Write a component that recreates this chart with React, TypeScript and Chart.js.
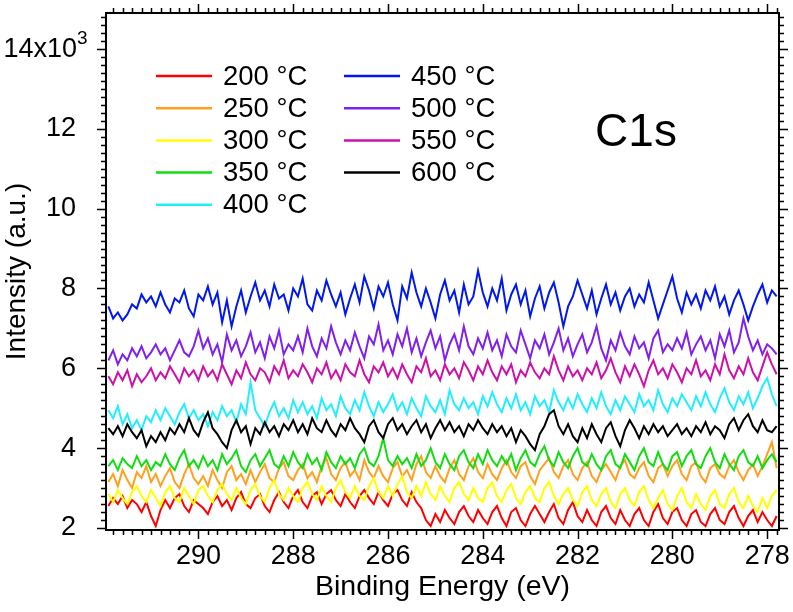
import React, { useEffect, useRef } from "react";
import { Chart, registerables } from "chart.js";

Chart.register(...registerables);

const FONT = '"Liberation Sans", Arial, Helvetica, sans-serif';

// Binding energy grid (eV)
const energies = [
  291.9, 291.8, 291.7, 291.6, 291.5, 291.4, 291.3, 291.2, 291.1, 291.0,
  290.9, 290.8, 290.7, 290.6, 290.5, 290.4, 290.3, 290.2, 290.1, 290.0,
  289.9, 289.8, 289.7, 289.6, 289.5, 289.4, 289.3, 289.2, 289.1, 289.0,
  288.9, 288.8, 288.7, 288.6, 288.5, 288.4, 288.3, 288.2, 288.1, 288.0,
  287.9, 287.8, 287.7, 287.6, 287.5, 287.4, 287.3, 287.2, 287.1, 287.0,
  286.9, 286.8, 286.7, 286.6, 286.5, 286.4, 286.3, 286.2, 286.1, 286.0,
  285.9, 285.8, 285.7, 285.6, 285.5, 285.4, 285.3, 285.2, 285.1, 285.0,
  284.9, 284.8, 284.7, 284.6, 284.5, 284.4, 284.3, 284.2, 284.1, 284.0,
  283.9, 283.8, 283.7, 283.6, 283.5, 283.4, 283.3, 283.2, 283.1, 283.0,
  282.9, 282.8, 282.7, 282.6, 282.5, 282.4, 282.3, 282.2, 282.1, 282.0,
  281.9, 281.8, 281.7, 281.6, 281.5, 281.4, 281.3, 281.2, 281.1, 281.0,
  280.9, 280.8, 280.7, 280.6, 280.5, 280.4, 280.3, 280.2, 280.1, 280.0,
  279.9, 279.8, 279.7, 279.6, 279.5, 279.4, 279.3, 279.2, 279.1, 279.0,
  278.9, 278.8, 278.7, 278.6, 278.5, 278.4, 278.3, 278.2, 278.1, 278.0,
  277.9, 277.8,
];

// Intensities (x10^3 a.u.)
const t200 = [
  2.55,2.75,2.60,2.80,2.50,2.70,2.60,2.40,2.65,2.30,2.05,2.45,2.70,2.50,2.75,2.85,2.55,2.40,2.70,2.60,
  2.50,2.35,2.65,2.80,2.55,2.70,2.45,2.75,2.90,2.60,2.50,2.75,2.85,2.55,2.40,2.70,2.90,2.65,2.50,2.80,
  2.95,2.65,2.50,2.80,2.90,2.60,2.85,2.95,2.70,2.55,2.85,2.65,2.50,2.80,2.95,2.75,2.60,2.90,2.70,2.55,
  2.85,2.95,2.70,2.55,2.90,2.65,2.50,2.20,2.05,2.35,2.15,2.45,2.25,2.10,2.40,2.55,2.30,2.15,2.45,2.25,
  2.10,2.40,2.55,2.25,2.05,2.40,2.50,2.20,2.05,2.35,2.55,2.35,2.15,2.40,2.60,2.25,2.10,2.45,2.65,2.30,
  2.15,2.45,2.20,2.05,2.40,2.55,2.25,2.10,2.45,2.20,2.05,2.35,2.50,2.20,2.05,2.40,2.60,2.25,2.10,2.40,
  2.50,2.20,2.05,2.35,2.45,2.15,2.05,2.35,2.50,2.20,2.10,2.40,2.55,2.25,2.05,2.30,2.45,2.15,2.40,2.20,
  2.05,2.30,
];
const t250 = [
  3.15,3.35,3.05,3.45,3.20,3.00,3.40,3.25,3.55,3.15,3.35,3.05,3.30,3.50,3.15,3.00,3.35,3.60,3.25,3.10,
  3.30,3.05,3.45,3.20,3.00,3.40,3.55,3.20,3.35,3.10,3.45,3.15,3.40,3.60,3.25,3.15,3.50,3.65,3.30,3.20,
  3.45,3.60,3.25,3.40,3.15,3.55,3.75,3.35,3.20,3.50,3.65,3.30,3.45,3.20,3.70,3.40,3.25,3.55,3.30,3.15,
  3.50,3.65,3.30,3.45,3.20,3.60,3.80,3.40,3.25,3.55,3.30,3.15,3.50,3.70,3.35,3.20,3.55,3.75,3.40,3.25,
  3.60,3.35,3.20,3.50,3.70,3.40,3.25,3.55,3.65,3.30,3.10,3.45,3.60,3.75,3.40,3.25,3.55,3.70,3.35,3.20,
  3.50,3.65,3.30,3.15,3.45,3.60,3.40,3.20,3.55,3.70,3.35,3.25,3.50,3.65,3.30,3.15,3.50,3.60,3.30,3.55,
  3.70,3.35,3.20,3.55,3.65,3.30,3.15,3.50,3.60,3.35,3.25,3.55,3.70,3.40,3.20,3.45,3.60,3.30,3.55,3.85,
  4.15,3.50,
];
const t300 = [
  2.85,2.65,2.95,2.75,2.60,2.90,3.05,2.80,2.65,2.95,2.75,2.55,2.90,3.05,2.75,2.65,3.00,2.80,2.60,2.95,
  3.05,2.80,2.65,2.95,3.10,2.85,2.70,3.00,2.75,2.60,2.95,3.10,2.80,2.65,3.00,3.20,2.85,2.70,3.00,2.80,
  2.65,3.00,3.15,2.85,2.70,3.05,2.80,2.65,3.00,3.20,2.90,2.75,3.05,2.80,2.70,3.05,3.25,2.90,2.75,3.05,
  2.80,3.10,3.30,2.90,2.75,3.05,2.80,3.15,2.85,2.70,3.05,2.80,2.65,3.00,3.15,2.85,2.70,3.00,2.75,2.65,
  3.00,3.15,2.80,2.65,2.95,3.10,2.75,2.60,2.90,3.05,2.75,2.65,3.00,3.15,2.80,2.60,2.85,3.00,2.70,2.55,
  2.90,3.05,2.70,2.55,2.85,3.00,2.65,2.50,2.85,3.00,2.70,2.55,2.90,3.05,2.70,2.50,2.75,2.95,2.60,2.45,
  2.80,3.00,2.65,2.50,2.85,2.60,2.45,2.80,2.95,2.60,2.50,2.85,3.00,2.65,2.50,2.80,2.55,2.40,2.75,2.50,
  2.80,2.95,
];
const t350 = [
  3.55,3.70,3.45,3.75,3.60,3.50,3.80,3.55,3.70,3.45,3.65,3.55,3.85,3.60,3.45,3.75,3.95,3.55,3.70,3.50,
  3.80,3.55,3.70,3.45,3.85,3.60,3.75,3.95,3.55,3.40,3.70,3.85,3.55,3.75,3.95,3.60,3.50,3.80,3.55,3.90,
  3.65,3.50,3.85,3.60,3.75,3.45,3.90,3.65,3.50,3.80,3.60,3.75,3.50,3.85,4.00,3.65,3.55,3.80,4.25,3.70,
  3.55,3.80,3.60,3.75,3.50,3.85,3.55,3.70,4.00,3.65,3.50,3.85,3.60,3.45,3.80,3.95,3.65,3.50,3.85,3.60,
  3.95,3.70,3.55,3.80,3.60,3.85,3.45,3.75,3.95,3.65,3.55,3.85,4.05,3.70,3.55,3.90,3.65,3.50,3.80,4.00,
  3.65,3.55,3.85,3.60,3.45,3.80,3.95,3.60,3.50,3.85,3.65,3.45,3.80,4.00,3.65,3.55,3.90,3.60,3.45,3.80,
  3.90,3.55,3.80,3.95,3.60,3.50,3.80,4.00,3.65,3.50,3.85,3.60,3.45,3.80,3.95,3.65,3.55,3.80,3.50,3.70,
  3.85,3.65,
];
const t400 = [
  4.95,4.75,5.05,4.60,4.85,4.50,4.70,4.45,4.80,4.65,4.95,4.70,5.00,4.80,4.60,4.90,5.10,4.75,4.95,4.70,
  4.85,4.55,4.90,4.70,5.05,4.80,4.95,4.65,5.10,4.85,5.65,4.95,4.75,4.55,4.90,5.15,4.80,5.00,4.75,5.20,
  4.90,5.15,4.85,5.05,4.75,5.25,4.95,5.10,4.80,5.30,5.00,4.85,5.20,4.95,5.40,5.05,4.80,5.15,4.90,5.10,
  5.35,4.95,5.15,4.85,5.25,5.00,4.80,5.30,5.05,4.90,5.20,4.85,5.45,5.10,4.95,5.25,5.00,5.15,4.85,5.30,
  5.05,5.40,5.10,4.90,5.25,5.00,5.35,4.95,5.15,4.85,5.30,5.05,5.20,4.90,5.45,5.15,4.95,5.25,5.00,5.35,
  5.10,4.90,5.25,5.00,5.40,5.05,4.85,5.20,4.95,5.30,5.10,4.90,5.35,5.05,5.20,4.95,5.45,5.10,4.90,5.25,
  5.05,5.35,5.15,4.95,5.30,5.05,5.40,5.10,4.90,5.25,5.50,5.15,4.95,5.30,5.10,5.40,5.00,5.25,5.55,5.75,
  5.35,5.05,
];
const t450 = [
  7.55,7.25,7.40,7.20,7.35,7.60,7.50,7.85,7.65,7.80,7.55,7.90,7.60,7.40,7.75,7.65,7.95,7.50,7.30,7.85,
  7.70,8.05,7.60,7.90,7.15,7.70,7.05,7.55,7.95,7.40,7.80,8.15,7.70,7.95,7.55,8.10,7.75,7.85,7.45,8.00,
  7.80,8.25,7.60,7.45,7.95,7.70,8.20,7.85,7.55,7.90,7.35,7.75,8.10,7.65,8.30,7.95,7.50,8.05,7.80,8.15,
  7.60,7.20,8.05,7.75,8.40,7.90,7.55,8.00,7.65,7.25,7.85,8.20,7.70,7.95,7.40,8.10,7.60,7.80,8.45,7.90,
  7.55,8.00,7.70,8.25,7.45,7.85,8.10,7.60,7.95,7.30,7.75,8.05,7.50,7.90,8.15,7.65,7.05,7.55,7.80,8.20,
  7.85,7.50,7.95,7.35,7.75,8.10,7.60,7.90,7.45,7.80,8.00,7.55,7.85,7.65,8.15,7.70,7.25,7.60,7.95,8.30,
  7.75,7.40,7.90,7.60,7.85,7.50,7.95,7.70,8.05,7.55,7.80,7.35,7.70,7.95,7.60,7.20,7.55,7.85,8.10,7.65,
  7.95,7.80,
];
const t500 = [
  6.20,6.45,6.10,6.35,6.20,6.50,6.30,6.55,6.25,6.40,6.60,6.35,6.50,6.20,6.45,6.70,6.40,6.30,6.55,6.95,
  6.50,6.75,6.35,6.60,6.15,6.85,6.45,6.70,6.30,6.55,6.90,6.40,6.65,6.25,6.80,6.50,6.95,6.35,6.60,6.45,
  6.80,6.40,7.00,6.55,6.30,6.75,6.50,7.05,6.65,6.35,6.70,6.45,6.90,6.55,6.25,6.80,6.60,7.10,6.45,6.70,
  6.35,6.85,6.55,7.00,6.40,6.75,6.30,6.65,6.95,6.50,6.80,6.20,6.60,6.85,6.45,7.05,6.55,6.35,6.75,6.50,
  6.90,6.45,6.70,6.30,6.85,6.55,6.40,6.95,6.60,6.25,6.70,6.50,6.85,6.35,6.65,7.00,6.45,6.75,6.30,6.60,
  6.85,6.40,6.65,7.05,6.50,6.20,6.70,6.45,6.90,6.55,6.35,6.80,6.50,6.65,6.25,6.75,6.95,6.40,6.60,6.45,
  6.75,6.50,6.90,6.35,6.60,6.80,6.45,6.70,6.25,6.85,6.55,6.95,6.40,6.65,7.25,6.80,6.45,6.70,6.35,6.60,
  6.50,6.35,
];
const t550 = [
  5.80,5.60,5.90,5.70,5.95,5.55,5.85,5.65,5.80,6.00,5.70,5.90,5.75,6.05,5.85,5.65,6.00,5.80,5.95,5.70,
  6.05,5.80,5.95,5.70,6.10,5.85,5.60,5.95,5.75,6.15,5.85,5.70,6.00,5.90,5.65,6.05,5.85,6.20,5.75,5.95,
  5.80,6.10,5.90,5.65,6.00,5.85,6.15,5.75,5.95,5.70,6.10,5.90,5.80,6.20,5.85,5.65,6.05,5.90,6.15,5.80,
  6.00,5.75,6.10,5.85,5.65,6.05,5.90,6.25,5.80,5.95,5.70,6.10,5.85,6.00,5.75,6.15,5.95,5.70,6.05,5.85,
  6.20,5.90,5.70,6.05,5.85,6.10,5.65,5.95,5.80,6.15,5.90,5.75,6.00,5.85,6.30,5.95,5.70,6.05,5.80,5.95,
  5.70,6.00,5.85,6.15,5.75,5.95,6.25,5.90,5.65,6.05,5.80,6.10,5.85,5.55,5.95,6.20,5.85,6.00,5.75,6.10,
  5.90,5.65,6.00,5.85,6.20,5.80,5.95,5.70,6.10,5.85,6.35,5.95,5.75,6.05,5.85,6.25,5.90,5.70,6.05,6.40,
  6.10,5.85,
];
const t600 = [
  4.50,4.35,4.55,4.30,4.60,4.40,4.25,4.45,4.05,4.30,4.15,4.40,4.20,4.50,4.35,4.60,4.40,4.75,4.45,4.30,
  4.65,4.90,4.50,4.35,4.15,4.00,4.45,4.70,4.40,4.55,4.10,4.50,4.35,4.65,4.40,4.55,4.30,4.60,4.45,4.70,
  4.40,4.60,4.35,4.75,4.50,4.40,4.70,4.45,4.30,4.60,4.45,4.75,4.50,4.35,4.15,4.55,4.70,4.40,4.25,4.60,
  4.75,4.45,4.60,4.35,4.55,4.70,4.40,4.60,4.25,4.50,4.70,4.45,4.65,4.40,4.55,4.30,4.60,4.45,4.70,4.50,
  4.35,4.60,4.40,4.55,4.30,4.50,4.15,4.45,4.30,4.10,3.95,4.35,4.55,4.85,4.95,4.55,4.35,4.60,4.30,4.15,
  4.50,4.25,4.60,4.35,4.15,4.50,4.65,4.30,4.05,4.45,4.70,4.50,4.25,4.55,4.35,4.60,4.40,4.55,4.30,4.45,
  4.60,4.35,4.50,4.30,4.55,4.40,4.65,4.35,4.55,4.45,4.25,4.60,4.75,4.45,4.70,4.85,4.55,4.40,4.70,4.45,
  4.40,4.55,
];

const seriesLabels = ["200 °C", "250 °C", "300 °C", "350 °C", "400 °C", "450 °C", "500 °C", "550 °C", "600 °C"];
const seriesValues = [t200, t250, t300, t350, t400, t450, t500, t550, t600];
const seriesColors = ["#ff0000", "#ffa020", "#ffff00", "#11dd11", "#22eeff", "#0018ee", "#8020ee", "#cc11aa", "#000000"];

const xTickValues = [290, 288, 286, 284, 282, 280, 278];
const yTickValues = [2, 4, 6, 8, 10, 12, 14];
const yTickLabels = ["2", "4", "6", "8", "10", "12", "14x10"];
const yTopExponent = "3";
const xTitle = "Binding Energy (eV)";
const yTitle = "Intensity (a.u.)";
const panelLabel = "C1s";

const X_MIN = 277.75, X_MAX = 291.95, Y_MIN = 1.95, Y_MAX = 14.9;
const MINOR_X = 0.2, MINOR_Y = 0.2;

const framePlugin = {
  id: "frameTicks",
  afterDraw(chart: any) {
    const { ctx, chartArea: a, scales } = chart;
    const xs = scales.x, ys = scales.y;
    ctx.save();
    ctx.strokeStyle = "#000";
    ctx.lineWidth = 1.5;
    const MAJ = 9, MIN = 5;
    const isMajor = (v: number, list: number[]) => list.some((t) => Math.abs(t - v) < 1e-6);
    for (let k = Math.ceil(X_MIN / MINOR_X); k * MINOR_X <= X_MAX + 1e-9; k++) {
      const v = Math.round(k * MINOR_X * 10) / 10;
      const px = Math.round(xs.getPixelForValue(v)) + 0.5;
      const len = isMajor(v, xTickValues) ? MAJ : MIN;
      ctx.beginPath();
      ctx.moveTo(px, a.bottom);
      ctx.lineTo(px, a.bottom + len);
      ctx.moveTo(px, a.top);
      ctx.lineTo(px, a.top - len);
      ctx.stroke();
    }
    for (let k = Math.ceil(Y_MIN / MINOR_Y); k * MINOR_Y <= Y_MAX + 1e-9; k++) {
      const v = Math.round(k * MINOR_Y * 10) / 10;
      const py = Math.round(ys.getPixelForValue(v)) + 0.5;
      const len = isMajor(v, yTickValues) ? MAJ : MIN;
      ctx.beginPath();
      ctx.moveTo(a.left, py);
      ctx.lineTo(a.left - len, py);
      ctx.moveTo(a.right, py);
      ctx.lineTo(a.right + len, py);
      ctx.stroke();
    }
    ctx.lineWidth = 2;
    ctx.strokeRect(a.left, a.top, a.right - a.left, a.bottom - a.top);

    // top y tick label with exponent
    const topIdx = yTickValues.length - 1;
    const ty = ys.getPixelForValue(yTickValues[topIdx]);
    ctx.fillStyle = "#000";
    ctx.textBaseline = "middle";
    ctx.textAlign = "right";
    ctx.font = `27px ${FONT}`;
    ctx.fillText(yTickLabels[topIdx], 77, ty + 1);
    ctx.font = `19px ${FONT}`;
    ctx.textAlign = "left";
    ctx.fillText(yTopExponent, 77, ty - 10);

    // legend
    ctx.font = `27.5px ${FONT}`;
    ctx.textBaseline = "middle";
    ctx.textAlign = "left";
    chart.data.datasets.forEach((ds: any, i: number) => {
      const col = i < 5 ? 0 : 1;
      const row = i % 5;
      const lx = col === 0 ? 156 : 344;
      const ly = 76 + row * 32.2;
      ctx.strokeStyle = ds.borderColor;
      ctx.lineWidth = 2.5;
      ctx.beginPath();
      ctx.moveTo(lx, ly);
      ctx.lineTo(lx + 56, ly);
      ctx.stroke();
      ctx.fillStyle = "#000";
      ctx.fillText(ds.label, lx + 67, ly + 1);
    });

    ctx.font = `46px ${FONT}`;
    ctx.textAlign = "center";
    ctx.fillStyle = "#000";
    ctx.fillText(panelLabel, 636, 133);
    ctx.restore();
  },
};

export default function App() {
  const ref = useRef<HTMLCanvasElement | null>(null);
  useEffect(() => {
    if (!ref.current) return;
    const datasets = seriesValues.map((vals, i) => ({
      label: seriesLabels[i],
      data: vals.map((v, j) => ({ x: energies[j], y: v })),
      borderColor: seriesColors[i],
      backgroundColor: seriesColors[i],
      borderWidth: 2,
      pointRadius: 0,
      tension: 0,
      fill: false,
      order: 20 - i,
    }));
    const chart = new Chart(ref.current, {
      type: "line",
      data: { datasets },
      plugins: [framePlugin],
      options: {
        animation: false,
        responsive: false,
        maintainAspectRatio: false,
        layout: { padding: { top: 13, right: 14, left: 0, bottom: 0 } },
        plugins: { legend: { display: false }, tooltip: { enabled: false } },
        scales: {
          x: {
            type: "linear",
            reverse: true,
            min: X_MIN,
            max: X_MAX,
            grid: { display: false },
            border: { display: false },
            afterBuildTicks: (s: any) => { s.ticks = xTickValues.map((v) => ({ value: v })); },
            afterFit: (s: any) => { s.height = 82; s.paddingLeft = 0; s.paddingRight = 0; },
            ticks: {
              color: "#000",
              font: { family: FONT, size: 27 },
              padding: 2,
              maxRotation: 0,
              autoSkip: false,
              callback: (v: any) => String(v),
            },
            title: {
              display: true,
              text: xTitle,
              color: "#000",
              font: { family: FONT, size: 28.5 },
              padding: { top: 0, bottom: 8 },
            },
          },
          y: {
            type: "linear",
            min: Y_MIN,
            max: Y_MAX,
            grid: { display: false },
            border: { display: false },
            afterBuildTicks: (s: any) => { s.ticks = yTickValues.map((v) => ({ value: v })); },
            afterFit: (s: any) => { s.width = 106; s.paddingTop = 0; s.paddingBottom = 0; },
            ticks: {
              color: "#000",
              font: { family: FONT, size: 27 },
              padding: 22,
              autoSkip: false,
              callback: (v: any) => {
                const idx = yTickValues.indexOf(v);
                return idx === yTickValues.length - 1 ? "" : yTickLabels[idx];
              },
            },
            title: {
              display: true,
              text: yTitle,
              color: "#000",
              font: { family: FONT, size: 28 },
              padding: { top: 0, bottom: 0 },
            },
          },
        },
      },
    });
    return () => chart.destroy();
  }, []);
  return (
    <div style={{ position: "absolute", left: 0, top: 0, width: 793, height: 612, background: "#fff" }}>
      <canvas ref={ref} width={793} height={612} style={{ display: "block", width: 793, height: 612 }} />
    </div>
  );
}
